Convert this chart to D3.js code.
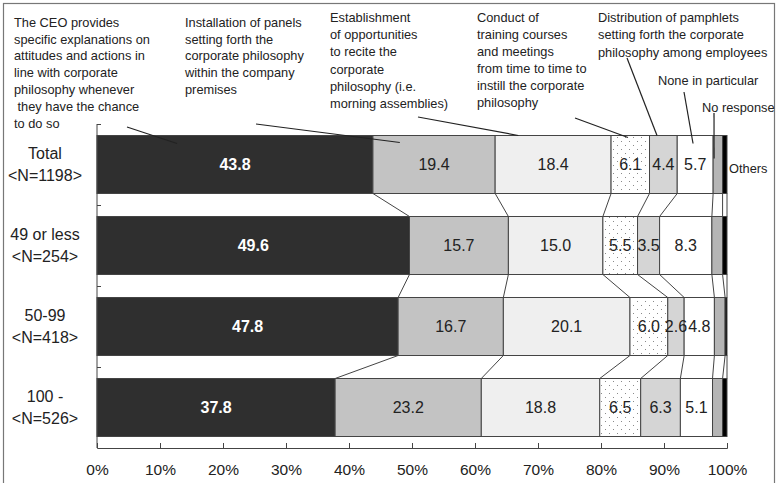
<!DOCTYPE html>
<html>
<head>
<meta charset="utf-8">
<script src="https://cdn.jsdelivr.net/npm/d3@7"></script>
<style>
  html, body { margin: 0; padding: 0; background: #fff; }
  svg { display: block; font-family: "Liberation Sans", Arial, sans-serif; }
</style>
</head>
<body>
<svg id="chart" width="778" height="483"></svg>
<script>
// ---- data ----
const categories = ["Total", "49 or less", "50-99", "100 -"];
const categoryN = ["<N=1198>", "<N=254>", "<N=418>", "<N=526>"];
const seriesNames = [
  "The CEO provides specific explanations on attitudes and actions in line with corporate philosophy whenever they have the chance to do so",
  "Installation of panels setting forth the corporate philosophy within the company premises",
  "Establishment of opportunities to recite the corporate philosophy (i.e. morning assemblies)",
  "Conduct of training courses and meetings from time to time to instill the corporate philosophy",
  "Distribution of pamphlets setting forth the corporate philosophy among employees",
  "None in particular",
  "No response",
  "Others"
];
const ceoExplains     = [43.8, 49.6, 47.8, 37.8];
const panels          = [19.4, 15.7, 16.7, 23.2];
const recitation      = [18.4, 15.0, 20.1, 18.8];
const trainingCourses = [6.1, 5.5, 6.0, 6.5];
const pamphlets       = [4.4, 3.5, 2.6, 6.3];
const noneInParticular= [5.7, 8.3, 4.8, 5.1];
const noResponse      = [1.5, 1.7, 1.7, 1.6];
const others          = [0.7, 0.7, 0.3, 0.7];
const seriesValues = [ceoExplains, panels, recitation, trainingCourses, pamphlets, noneInParticular, noResponse, others];
const xTickValues = [0, 10, 20, 30, 40, 50, 60, 70, 80, 90, 100];
const xTickLabels = ["0%", "10%", "20%", "30%", "40%", "50%", "60%", "70%", "80%", "90%", "100%"];

// annotation texts (wrapped as in the original)
const annotationLines = [
  ["The CEO provides", "specific explanations on", "attitudes and actions in", "line with corporate", "philosophy whenever", "\u00a0they have the chance", "to do so"],
  ["Installation of panels", "setting forth the", "corporate philosophy", "within the company", "premises"],
  ["Establishment", "of opportunities", "to recite the", "corporate", "philosophy (i.e.", "morning assemblies)"],
  ["Conduct of", "training courses", "and meetings", "from time to time to", "instill the corporate", "philosophy"],
  ["Distribution of pamphlets", "setting forth the corporate", "philosophy among employees"],
  ["None in particular"],
  ["No response"]
];
const othersLabel = "Others";

// ---- layout / style ----
const fills = ["#2f2f2f", "#c3c3c3", "#efefef", "url(#dots)", "#d5d5d5", "#ffffff", "#b5b5b5", "#000000"];
const svg = d3.select("#chart");

const defs = svg.append("defs");
const pat = defs.append("pattern").attr("id", "dots").attr("patternUnits", "userSpaceOnUse")
  .attr("width", 8).attr("height", 8);
pat.append("rect").attr("width", 8).attr("height", 8).attr("fill", "#fff");
pat.append("rect").attr("x", 1).attr("y", 1).attr("width", 1).attr("height", 1).attr("fill", "#8a8a8a");
pat.append("rect").attr("x", 5).attr("y", 5).attr("width", 1).attr("height", 1).attr("fill", "#8a8a8a");

// frame
svg.append("rect").attr("x", 3.5).attr("y", 3.5).attr("width", 771).attr("height", 520)
  .attr("fill", "none").attr("stroke", "#777").attr("stroke-width", 1.2);

const x = d3.scaleLinear().domain([0, 100]).range([97, 727]);
const y = d3.scaleBand().domain(categories).range([124, 448]).paddingInner(0.284).paddingOuter(0.142);

// stacked data
const stackData = categories.map((c, i) => {
  const o = { cat: c };
  seriesNames.forEach((s, j) => o[s] = seriesValues[j][i]);
  return o;
});
const stacked = d3.stack().keys(seriesNames)(stackData);

// connectors between bars
const conn = svg.append("g").attr("stroke", "#444").attr("stroke-width", 1).attr("fill", "none");
for (let i = 0; i < categories.length - 1; i++) {
  stacked.forEach(layer => {
    const a = layer[i], b = layer[i + 1];
    conn.append("line")
      .attr("x1", x(a[1])).attr("y1", y(categories[i]) + y.bandwidth())
      .attr("x2", x(b[1])).attr("y2", y(categories[i + 1]));
  });
}

// bars
const layers = svg.append("g").selectAll("g").data(stacked).join("g")
  .attr("fill", (d, j) => fills[j]);
layers.selectAll("rect").data(d => d).join("rect")
  .attr("x", d => x(d[0]))
  .attr("y", d => y(d.data.cat))
  .attr("width", d => x(d[1]) - x(d[0]))
  .attr("height", y.bandwidth())
  .attr("stroke", "#444").attr("stroke-width", 1);

// value labels
stacked.forEach((layer, j) => {
  if (j > 5) return;
  svg.append("g").selectAll("text").data(layer).join("text")
    .attr("x", d => (x(d[0]) + x(d[1])) / 2)
    .attr("y", d => y(d.data.cat) + y.bandwidth() / 2)
    .attr("dy", "0.36em")
    .attr("text-anchor", "middle")
    .attr("font-size", 16)
    .attr("font-weight", j === 0 ? "bold" : "normal")
    .attr("fill", j === 0 ? "#fff" : "#222")
    .text(d => (d[1] - d[0]).toFixed(1));
});

// y axis line with inward ticks
const axisColor = "#444";
svg.append("line").attr("x1", x(0)).attr("x2", x(0)).attr("y1", 124).attr("y2", 448)
  .attr("stroke", axisColor).attr("stroke-width", 1);
categories.forEach((c, i) => {
  const yy = Math.round(y(c) - y.step() * y.paddingOuter()) + 0.5;
  svg.append("line").attr("x1", x(0)).attr("x2", x(0) + 4).attr("y1", yy).attr("y2", yy)
    .attr("stroke", axisColor);
});

// category labels
const catG = svg.append("g").attr("font-size", 16).attr("fill", "#222").attr("text-anchor", "middle");
categories.forEach((c, i) => {
  const cy = y(c) + y.bandwidth() / 2;
  catG.append("text").attr("x", 45).attr("y", cy - 11).attr("dy", "0.36em").text(c);
  catG.append("text").attr("x", 45).attr("y", cy + 11).attr("dy", "0.36em").text(categoryN[i]);
});

// x axis
const xAxis = d3.axisBottom(x).tickValues(xTickValues)
  .tickFormat((d, i) => xTickLabels[i]).tickSize(-5).tickSizeOuter(-5).tickPadding(16);
const xg = svg.append("g").attr("transform", "translate(0,448)").call(xAxis);
xg.selectAll("path, line").attr("stroke", axisColor);
xg.selectAll("text").attr("font-size", 15.5).attr("fill", "#222")
  .attr("font-family", "Liberation Sans, Arial, sans-serif");

// annotations
const totalTop = y(categories[0]);
const annos = [
  { tx: 14,  ty: 22, lh: 16.9, sx: 127, sy: 127, series: 0, frac: 0.29, depth: 8 },
  { tx: 185, ty: 22, lh: 16.9, sx: 256, sy: 124, series: 1, frac: 0.22, depth: 7 },
  { tx: 330, ty: 17, lh: 17.3, sx: 418, sy: 117, series: 2, frac: 0.20, depth: 0 },
  { tx: 477, ty: 17, lh: 17.0, sx: 575, sy: 118, series: 3, frac: 0.44, depth: 2 },
  { tx: 598, ty: 17, lh: 17.5, sx: 627, sy: 58,  series: 4, frac: 0.27, depth: 0 },
  { tx: 658, ty: 80, lh: 17,   sx: 684, sy: 92,  series: 5, frac: 0.44, depth: 8 },
  { tx: 702, ty: 107, lh: 17,  sx: 714, sy: 113, series: 6, frac: 0.10, depth: 23 }
];
const annG = svg.append("g").attr("font-size", 12.8).attr("fill", "#222");
annos.forEach((a, k) => {
  annotationLines[k].forEach((ln, li) => {
    annG.append("text").attr("x", a.tx).attr("y", a.ty + li * a.lh).attr("dy", "0.36em").text(ln);
  });
  const seg = stacked[a.series][0];
  const ex = x(seg[0] + a.frac * (seg[1] - seg[0]));
  svg.append("line").attr("x1", a.sx).attr("y1", a.sy).attr("x2", ex).attr("y2", totalTop + a.depth)
    .attr("stroke", "#222").attr("stroke-width", 1.2);
});
annG.append("text").attr("x", x(100) + 2).attr("y", totalTop + y.bandwidth() / 2 + 4)
  .attr("dy", "0.36em").text(othersLabel);
</script>
</body>
</html>
